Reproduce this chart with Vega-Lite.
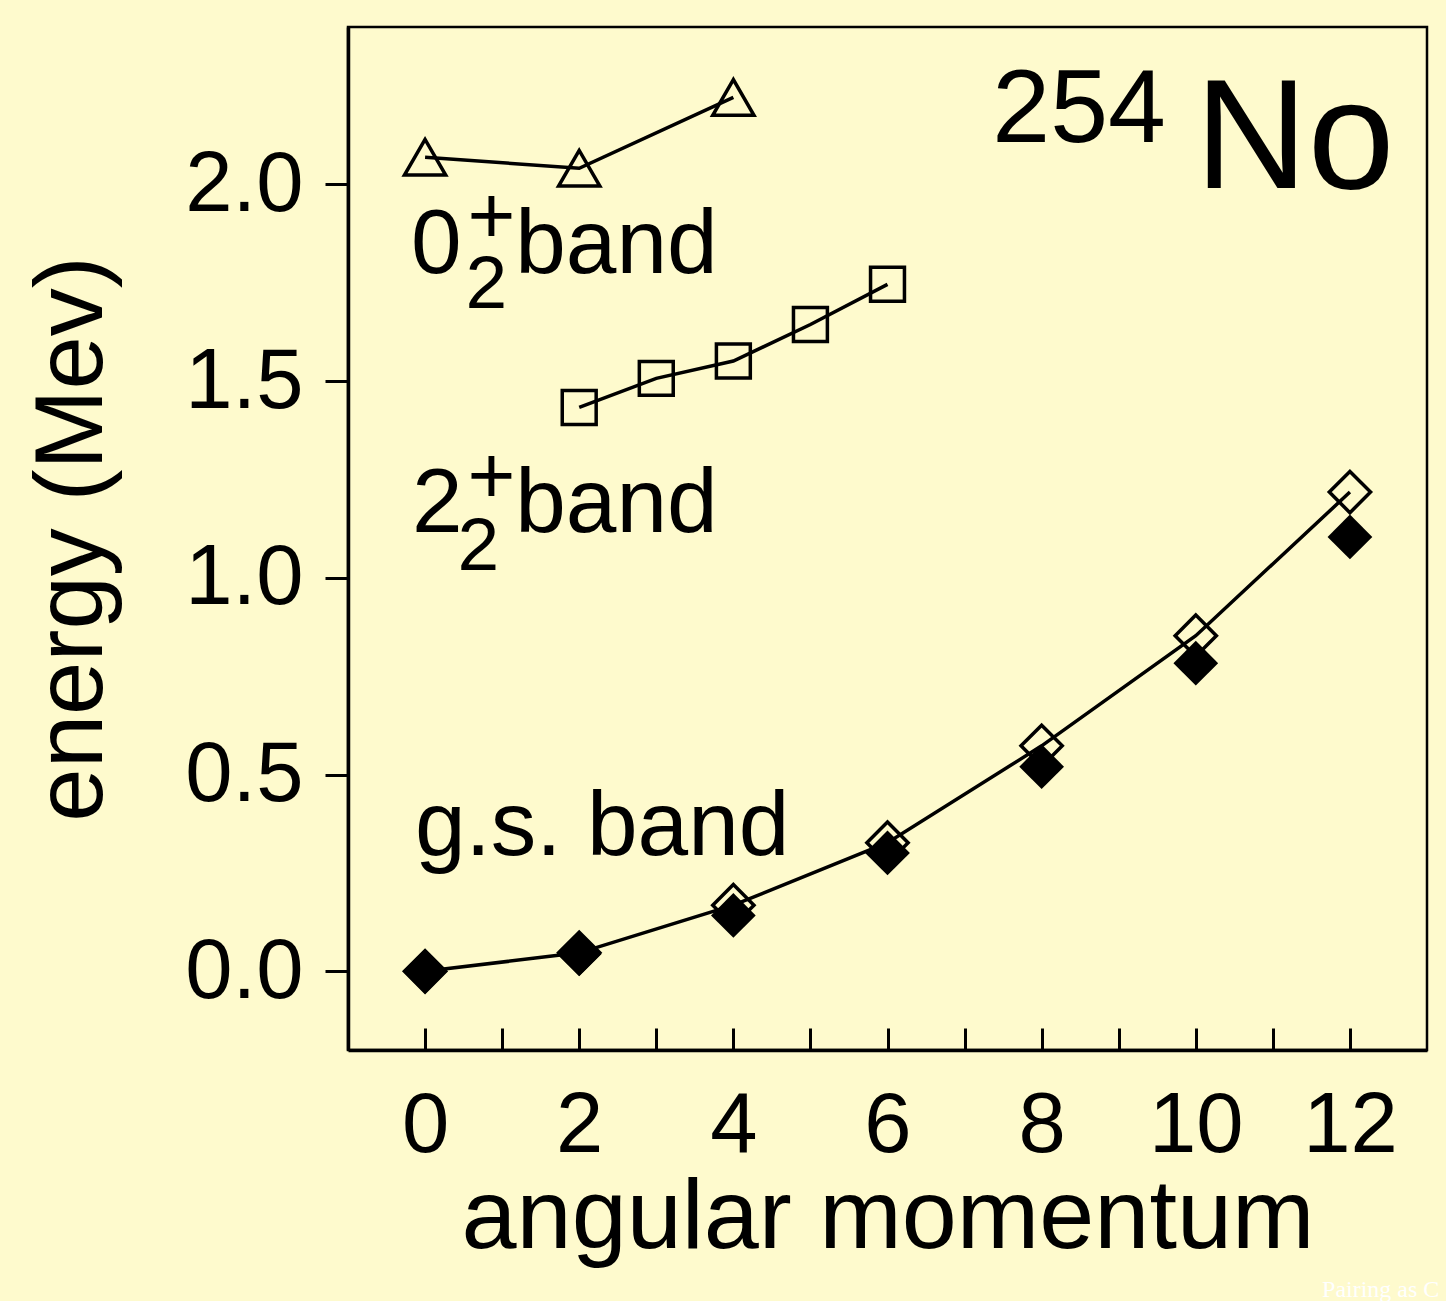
{
  "$schema": "https://vega.github.io/schema/vega-lite/v6.json",
  "width": 1079,
  "height": 1023,
  "autosize": {"type": "none"},
  "padding": {"left": 348, "top": 27, "right": 19, "bottom": 251},
  "background": "#FEFACD",
  "config": {
    "view": {"stroke": "black", "strokeWidth": 2.5},
    "axis": {
      "grid": false,
      "domainColor": "black",
      "domainWidth": 3.5,
      "tickColor": "black",
      "tickWidth": 3,
      "labelColor": "black",
      "titleColor": "black",
      "labelFont": "Liberation Sans",
      "titleFont": "Liberation Sans",
      "titleFontWeight": "normal",
      "labelFontSize": 85
    }
  },
  "datasets": {
    "levels": [
      {"series": "gs_exp", "J": 0, "E": 0.0},
      {"series": "gs_exp", "J": 2, "E": 0.044},
      {"series": "gs_exp", "J": 4, "E": 0.142},
      {"series": "gs_exp", "J": 6, "E": 0.301},
      {"series": "gs_exp", "J": 8, "E": 0.52},
      {"series": "gs_exp", "J": 10, "E": 0.783},
      {"series": "gs_exp", "J": 12, "E": 1.104},
      {"series": "gs_th", "J": 0, "E": 0.0},
      {"series": "gs_th", "J": 2, "E": 0.047},
      {"series": "gs_th", "J": 4, "E": 0.168},
      {"series": "gs_th", "J": 6, "E": 0.327},
      {"series": "gs_th", "J": 8, "E": 0.573},
      {"series": "gs_th", "J": 10, "E": 0.853},
      {"series": "gs_th", "J": 12, "E": 1.218},
      {"series": "gamma", "J": 2, "E": 1.433},
      {"series": "gamma", "J": 3, "E": 1.507},
      {"series": "gamma", "J": 4, "E": 1.551},
      {"series": "gamma", "J": 5, "E": 1.644},
      {"series": "gamma", "J": 6, "E": 1.746},
      {"series": "zero2", "J": 0, "E": 2.069},
      {"series": "zero2", "J": 2, "E": 2.041},
      {"series": "zero2", "J": 4, "E": 2.221}
    ],
    "mainText": [
      {"t": "0", "x": -0.183, "y": 1.774},
      {"t": "band", "x": 1.17, "y": 1.774},
      {"t": "2", "x": -0.17, "y": 1.116},
      {"t": "band", "x": 1.17, "y": 1.116},
      {"t": "g.s. band", "x": -0.131, "y": 0.295}
    ],
    "subText": [
      {"t": "2", "x": 0.525, "y": 1.687},
      {"t": "2", "x": 0.42, "y": 1.019}
    ],
    "supText": [
      {"t": "+", "x": 0.862, "y": 1.852},
      {"t": "+", "x": 0.862, "y": 1.191}
    ],
    "massText": [{"t": "254", "x": 7.36, "y": 2.107}],
    "elemText": [{"t": "No", "x": 9.99, "y": 1.992}],
    "footer": [{"t": "Pairing as C", "x": 11.638, "y": -0.828}]
  },
  "encoding": {
    "x": {
      "field": "J",
      "type": "quantitative",
      "scale": {"domain": [-1, 13], "nice": false, "zero": false},
      "axis": {
        "title": "angular momentum",
        "titleFontSize": 99,
        "titlePadding": 1,
        "values": [0, 1, 2, 3, 4, 5, 6, 7, 8, 9, 10, 11, 12],
        "labelExpr": "datum.value % 2 === 0 ? datum.label : ''",
        "tickSize": -22,
        "labelPadding": 56,
        "labelFlush": false,
        "labelOverlap": false
      }
    },
    "y": {
      "field": "E",
      "type": "quantitative",
      "scale": {"domain": [-0.2, 2.4], "nice": false, "zero": false},
      "axis": {
        "title": "energy (Mev)",
        "titleFontSize": 96,
        "titlePadding": 63,
        "values": [0, 0.5, 1, 1.5, 2],
        "format": ".1f",
        "tickSize": 23,
        "labelPadding": 22,
        "labelFlush": false,
        "labelOverlap": false
      }
    }
  },
  "layer": [
    {
      "data": {"name": "levels"},
      "transform": [{"filter": "datum.series === 'gs_th'"}],
      "mark": {"type": "point", "shape": "diamond", "filled": false, "size": 1700, "strokeWidth": 3.5, "color": "black", "opacity": 1}
    },
    {
      "data": {"name": "levels"},
      "transform": [{"filter": "datum.series === 'gs_th'"}],
      "mark": {"type": "line", "color": "black", "strokeWidth": 3.5}
    },
    {
      "data": {"name": "levels"},
      "transform": [{"filter": "datum.series === 'gs_exp'"}],
      "mark": {"type": "point", "shape": "diamond", "filled": true, "size": 2000, "strokeWidth": 0, "color": "black", "opacity": 1}
    },
    {
      "data": {"name": "levels"},
      "transform": [{"filter": "datum.series === 'gamma'"}],
      "mark": {"type": "line", "color": "black", "strokeWidth": 3.5}
    },
    {
      "data": {"name": "levels"},
      "transform": [{"filter": "datum.series === 'gamma'"}],
      "mark": {"type": "point", "shape": "square", "filled": false, "size": 1150, "strokeWidth": 3.5, "color": "black", "opacity": 1}
    },
    {
      "data": {"name": "levels"},
      "transform": [{"filter": "datum.series === 'zero2'"}],
      "mark": {"type": "line", "color": "black", "strokeWidth": 3.5}
    },
    {
      "data": {"name": "levels"},
      "transform": [{"filter": "datum.series === 'zero2'"}],
      "mark": {"type": "point", "shape": "triangle-up", "filled": false, "size": 1700, "strokeWidth": 3.5, "color": "black", "opacity": 1}
    },
    {
      "data": {"name": "mainText"},
      "mark": {"type": "text", "align": "left", "baseline": "alphabetic", "font": "Liberation Sans", "fontSize": 91, "color": "black"},
      "encoding": {"x": {"field": "x", "type": "quantitative"}, "y": {"field": "y", "type": "quantitative"}, "text": {"field": "t"}}
    },
    {
      "data": {"name": "subText"},
      "mark": {"type": "text", "align": "left", "baseline": "alphabetic", "font": "Liberation Sans", "fontSize": 75, "color": "black"},
      "encoding": {"x": {"field": "x", "type": "quantitative"}, "y": {"field": "y", "type": "quantitative"}, "text": {"field": "t"}}
    },
    {
      "data": {"name": "supText"},
      "mark": {"type": "text", "align": "center", "baseline": "alphabetic", "font": "Liberation Sans", "fontSize": 82, "color": "black"},
      "encoding": {"x": {"field": "x", "type": "quantitative"}, "y": {"field": "y", "type": "quantitative"}, "text": {"field": "t"}}
    },
    {
      "data": {"name": "massText"},
      "mark": {"type": "text", "align": "left", "baseline": "alphabetic", "font": "Liberation Sans", "fontSize": 104, "color": "black"},
      "encoding": {"x": {"field": "x", "type": "quantitative"}, "y": {"field": "y", "type": "quantitative"}, "text": {"field": "t"}}
    },
    {
      "data": {"name": "elemText"},
      "mark": {"type": "text", "align": "left", "baseline": "alphabetic", "font": "Liberation Sans", "fontSize": 156, "color": "black"},
      "encoding": {"x": {"field": "x", "type": "quantitative"}, "y": {"field": "y", "type": "quantitative"}, "text": {"field": "t"}}
    },
    {
      "data": {"name": "footer"},
      "mark": {"type": "text", "align": "left", "baseline": "alphabetic", "font": "Liberation Serif", "fontSize": 24, "color": "white"},
      "encoding": {"x": {"field": "x", "type": "quantitative"}, "y": {"field": "y", "type": "quantitative"}, "text": {"field": "t"}}
    }
  ]
}
